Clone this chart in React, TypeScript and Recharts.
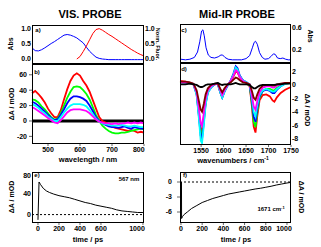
import { LineChart, Line, XAxis, YAxis, ReferenceLine } from 'recharts';

const FONT = "'Liberation Sans', Arial, sans-serif";

// a) steady-state absorption + fluorescence (vis)
const wavelengths = [450, 460, 470, 480, 490, 500, 510, 520, 530, 540, 550, 560, 570, 580, 590, 600, 610, 620, 630, 640, 650, 660, 670, 680, 690, 700, 710, 720, 730, 740, 750, 760, 770, 780, 790, 800];
const visAbs = [0.36, 0.27, 0.26, 0.3, 0.36, 0.43, 0.5, 0.56, 0.63, 0.7, 0.77, 0.79, 0.77, 0.73, 0.68, 0.6, 0.52, 0.38, 0.25, 0.15, 0.06, 0.02, 0.0, -0.01, -0.02, -0.02, -0.02, -0.02, -0.02, -0.02, -0.02, -0.02, -0.02, -0.02, -0.02, -0.02];
const visFluor = [null, null, null, null, null, null, null, null, null, null, null, null, null, null, 0.0, 0.08, 0.24, 0.42, 0.62, 0.82, 0.95, 0.98, 0.93, 0.86, 0.79, 0.73, 0.66, 0.59, 0.52, 0.45, 0.38, 0.31, 0.25, 0.19, 0.14, 0.1];

// b) transient vis spectra, mOD
const taRed = [36, 39, 35, 30, 24, 16, 10, 5, 5, 14, 28, 41, 52, 59, 62, 59, 52, 46, 38, 27, 16, 5, 0, -2, -4, -7, -9, -10, -11, -12, -13, -12, -13, -15, -14, -15];
const taGreen = [28, 27, 24, 19, 15, 10, 5, 2, 3, 10, 20, 30, 38, 44, 45, 44, 40, 35, 28, 18, 8, 0, -6, -10, -13, -15, -16, -16, -15, -15, -14, -13, -12, -11, -10, -11];
const taBlue = [25, 23, 20, 16, 12, 8, 4, 1, 2, 8, 15, 23, 29, 32, 32, 31, 29, 26, 20, 13, 5, 0, -3, -5, -7, -8, -8, -9, -8, -7, -9, -10, -8, -9, -10, -10];
const taCyan = [22, 20, 17, 13, 10, 6, 3, 0, 0, 5, 11, 16, 20, 22, 22, 22, 21, 19, 14, 9, 3, -1, -3, -4, -5, -6, -6, -6, -5, -6, -7, -7, -6, -7, -8, -8];
const taMagenta = [18, 16, 13, 10, 7, 4, 1, -2, -3, 1, 6, 11, 14, 15, 15, 15, 14, 13, 10, 6, 2, -1, -2, -3, -3, -4, -3, -4, -3, -3, -2, -3, -2, -3, -2, -3];

// c) IR absorption
const irAbsNu = [1505, 1515, 1525, 1535, 1542, 1547, 1551, 1554, 1557, 1561, 1566, 1572, 1580, 1588, 1594, 1598, 1603, 1610, 1620, 1630, 1640, 1650, 1658, 1664, 1668, 1671, 1675, 1680, 1686, 1692, 1700, 1706, 1711, 1715, 1720, 1726, 1732, 1738, 1744, 1750];
const irAbs = [0.03, 0.02, 0.03, 0.06, 0.15, 0.32, 0.5, 0.52, 0.42, 0.22, 0.1, 0.06, 0.05, 0.07, 0.1, 0.1, 0.06, 0.03, 0.02, 0.02, 0.02, 0.04, 0.09, 0.22, 0.31, 0.33, 0.28, 0.14, 0.06, 0.03, 0.04, 0.08, 0.12, 0.11, 0.05, 0.04, 0.05, 0.03, 0.02, 0.02];

// d) transient IR spectra, mOD
const irNu = [1503, 1515, 1525, 1533, 1540, 1545, 1549, 1552, 1556, 1560, 1565, 1572, 1580, 1587, 1593, 1597, 1602, 1609, 1616, 1622, 1627, 1631, 1636, 1643, 1651, 1658, 1663, 1667, 1671, 1675, 1680, 1687, 1695, 1703, 1709, 1713, 1719, 1727, 1737, 1750];
const irRed = [0.6, 0.5, 0.3, 0.1, -1.2, -4.0, -6.6, -7.0, -4.9, -2.5, -1.0, -0.3, 0.1, 0.2, -1.1, -1.8, -0.9, 0.0, 0.5, 1.3, 2.0, 1.9, 1.1, 0.6, 0.3, -0.2, -3.2, -6.2, -7.1, -4.6, -2.3, -1.5, -1.4, -1.7, -2.3, -2.5, -1.8, -1.2, -0.7, -0.3];
const irGreen = [0.5, 0.4, 0.3, 0.1, -1.3, -4.3, -7.1, -7.5, -5.2, -2.6, -1.0, -0.3, 0.1, 0.2, -1.1, -1.8, -0.9, 0.0, 0.6, 1.5, 2.4, 2.2, 1.3, 0.7, 0.3, -0.1, -2.8, -5.5, -6.3, -4.0, -1.9, -0.9, -0.6, -0.6, -0.8, -0.8, -0.4, -0.1, 0.2, 0.3];
const irBlue = [0.4, 0.4, 0.3, 0.1, -1.4, -4.6, -7.6, -8.1, -5.6, -2.8, -1.1, -0.4, 0.1, 0.2, -1.2, -1.9, -1.0, -0.1, 0.7, 1.7, 2.8, 2.5, 1.4, 0.7, 0.4, 0.0, -2.4, -4.7, -5.5, -3.5, -1.7, -0.9, -0.7, -0.9, -1.2, -1.2, -0.7, -0.2, 0.2, 0.3];
const irCyan = [0.4, 0.4, 0.3, 0.1, -1.5, -5.0, -8.3, -8.7, -6.0, -3.0, -1.2, -0.4, 0.1, 0.2, -1.2, -1.9, -1.0, -0.1, 0.6, 1.6, 2.6, 2.3, 1.3, 0.7, 0.4, 0.1, -2.0, -4.0, -4.7, -3.0, -1.5, -0.8, -0.6, -0.8, -1.0, -1.0, -0.6, -0.2, 0.2, 0.3];
const irMagenta = [0.4, 0.4, 0.3, 0.1, -1.1, -3.6, -5.7, -6.1, -4.2, -2.1, -0.8, -0.2, 0.1, 0.2, -0.9, -1.5, -0.8, 0.0, 0.6, 1.4, 2.2, 2.0, 1.2, 0.6, 0.3, 0.1, -1.6, -3.2, -3.7, -2.4, -1.1, -0.4, -0.2, -0.2, -0.4, -0.4, -0.1, 0.1, 0.3, 0.3];
const irBrown = [0.5, 0.5, 0.4, 0.2, -0.8, -2.4, -3.7, -4.0, -2.8, -1.4, -0.5, 0.0, 0.2, 0.2, -0.6, -1.1, -0.5, 0.1, 0.4, 0.8, 1.1, 1.0, 0.7, 0.4, 0.3, 0.1, -0.9, -1.9, -2.2, -1.4, -0.6, -0.1, 0.0, 0.0, -0.1, -0.1, 0.1, 0.2, 0.3, 0.3];
const irBlack = [0.1, 0.1, 0.2, 0.1, 0.0, -0.2, -0.3, -0.3, -0.2, 0.0, 0.1, 0.1, 0.2, 0.3, 0.1, 0.0, 0.1, 0.1, 0.1, 0.2, 0.3, 0.2, 0.1, 0.1, 0.1, 0.0, -0.3, -0.5, -0.5, -0.3, -0.1, 0.0, 0.0, 0.0, 0.0, 0.0, 0.1, 0.1, 0.2, 0.2];

// e) kinetic trace at 567 nm
const visTime = [0, 10, 25, 50, 80, 110, 150, 200, 250, 300, 350, 400, 450, 500, 550, 600, 650, 700, 750, 800, 850, 900, 950, 1000];
const visTrace = [-10, 62, 57, 50, 45, 42, 39, 36, 34, 32, 29, 26, 23, 21, 18, 16, 14, 12, 9, 7, 6, 5, 4, 4];

// f) kinetic trace at 1671 cm-1
const irTime = [5, 6, 15, 30, 60, 100, 150, 200, 250, 300, 350, 400, 450, 500, 550, 600, 650, 700, 750, 800, 850, 900, 950, 1000, 1030];
const irTrace = [0, -7.3, -6.9, -6.5, -6.0, -5.3, -4.7, -4.1, -3.7, -3.3, -3.0, -2.7, -2.4, -2.2, -2.0, -1.8, -1.6, -1.4, -1.25, -1.05, -0.85, -0.6, -0.4, -0.2, -0.1];

const visData = wavelengths.map((wl, i) => ({
  wl,
  abs: visAbs[i],
  fl: visFluor[i],
  red: taRed[i],
  green: taGreen[i],
  blue: taBlue[i],
  cyan: taCyan[i],
  magenta: taMagenta[i],
}));
const irAbsData = irAbsNu.map((nu, i) => ({ nu, abs: irAbs[i] }));
const irData = irNu.map((nu, i) => ({
  nu,
  red: irRed[i],
  green: irGreen[i],
  blue: irBlue[i],
  cyan: irCyan[i],
  magenta: irMagenta[i],
  brown: irBrown[i],
  black: irBlack[i],
}));
const visKin = visTime.map((t, i) => ({ t, v: visTrace[i] }));
const irKin = irTime.map((t, i) => ({ t, v: irTrace[i] }));

const tickStyle = { fontSize: 7, fontWeight: 700, fill: '#000', fontFamily: FONT };
const noMargin = { top: 0, right: 0, bottom: 0, left: 0 };

const visSeries = [
  { key: 'red', color: '#ff0000' },
  { key: 'green', color: '#00ff00' },
  { key: 'blue', color: '#0000ff' },
  { key: 'cyan', color: '#00ffff' },
  { key: 'magenta', color: '#ff00ff' },
];
const irSeries = [
  { key: 'red', color: '#ff0000' },
  { key: 'green', color: '#00ff00' },
  { key: 'blue', color: '#0000ff' },
  { key: 'cyan', color: '#00ffff' },
  { key: 'magenta', color: '#ff00ff' },
  { key: 'brown', color: '#800000' },
  { key: 'black', color: '#000000' },
];

const frames = [
  { x: 32, y: 25, w: 112, h: 39 },
  { x: 32, y: 64, w: 112, h: 80 },
  { x: 180, y: 24, w: 111, h: 39 },
  { x: 180, y: 63, w: 111, h: 82 },
  { x: 32, y: 172, w: 112, h: 51 },
  { x: 180, y: 172, w: 111, h: 51 },
];

const Label = (props: { x: number; y: number; rot: number; text: string; size?: number }) => (
  <text
    transform={`translate(${props.x},${props.y}) rotate(${props.rot})`}
    textAnchor="middle"
    dominantBaseline="central"
    fontSize={props.size ?? 7}
    fontWeight={700}
    fontFamily={FONT}
  >
    {props.text}
  </text>
);

export default function App() {
  return (
    <div style={{ position: 'absolute', left: 0, top: 0, width: 321, height: 247, background: '#fff' }}>
      <style>{'.recharts-surface{overflow:visible}'}</style>

      {/* a) */}
      <div style={{ position: 'absolute', left: 0, top: 25 }}>
        <LineChart width={165} height={39} data={visData} margin={noMargin}>
          <XAxis dataKey="wl" type="number" domain={[450, 800]} ticks={[450, 500, 550, 600, 650, 700, 750, 800]} tick={false} axisLine={false} tickSize={3} mirror height={0} />
          <YAxis yAxisId="abs" type="number" domain={[-0.161, 1.097]} allowDataOverflow ticks={[0, 0.5, 1]} tickFormatter={(v) => v.toFixed(1)} width={32} tick={tickStyle} tickSize={0} tickMargin={1} axisLine={false} />
          <YAxis yAxisId="fl" orientation="right" type="number" domain={[-0.161, 1.097]} allowDataOverflow ticks={[0, 0.5, 1]} tickFormatter={(v) => v.toFixed(1)} width={21} tick={tickStyle} tickSize={0} tickMargin={1} axisLine={false} />
          <Line yAxisId="abs" dataKey="abs" stroke="#0000ff" strokeWidth={1} dot={false} isAnimationActive={false} />
          <Line yAxisId="fl" dataKey="fl" stroke="#ff0000" strokeWidth={1} dot={false} isAnimationActive={false} />
        </LineChart>
      </div>

      {/* b) */}
      <div style={{ position: 'absolute', left: 0, top: 64 }}>
        <LineChart width={144} height={92} data={visData} margin={noMargin}>
          <XAxis dataKey="wl" type="number" domain={[450, 800]} ticks={[500, 600, 700, 800]} tick={tickStyle} axisLine={false} tickSize={2} tickMargin={1} height={12} />
          <YAxis type="number" domain={[-29.9, 74]} allowDataOverflow ticks={[-20, 0, 20, 40, 60]} width={32} tick={tickStyle} tickSize={3} tickMargin={2} axisLine={false} />
          <ReferenceLine y={0} stroke="#000" strokeWidth={3} />
          {visSeries.map((s) => (
            <Line key={s.key} dataKey={s.key} stroke={s.color} strokeWidth={1.8} dot={false} isAnimationActive={false} />
          ))}
        </LineChart>
      </div>

      {/* c) */}
      <div style={{ position: 'absolute', left: 180, top: 24 }}>
        <LineChart width={141} height={39} data={irAbsData} margin={noMargin}>
          <XAxis dataKey="nu" type="number" domain={[1503, 1750]} ticks={[1525, 1550, 1575, 1600, 1625, 1650, 1675, 1700, 1725]} tick={false} axisLine={false} tickSize={3} mirror height={0} />
          <YAxis orientation="right" type="number" domain={[-0.033, 0.617]} allowDataOverflow ticks={[0, 0.2, 0.4, 0.6]} tickFormatter={(v) => v.toFixed(1)} width={30} tick={tickStyle} tickSize={0} tickMargin={1} axisLine={false} />
          <Line dataKey="abs" stroke="#0000ff" strokeWidth={1} dot={false} isAnimationActive={false} />
        </LineChart>
      </div>

      {/* d) */}
      <div style={{ position: 'absolute', left: 180, top: 63 }}>
        <LineChart width={141} height={94} data={irData} margin={noMargin}>
          <XAxis dataKey="nu" type="number" domain={[1503, 1750]} ticks={[1550, 1600, 1650, 1700, 1750]} tick={tickStyle} axisLine={false} tickSize={2} tickMargin={1} height={12} />
          <YAxis orientation="right" type="number" domain={[-8.96, 3.28]} allowDataOverflow ticks={[2, 0, -2, -4, -6, -8]} width={30} tick={tickStyle} tickSize={0} tickMargin={1} axisLine={false} />
          {irSeries.map((s) => (
            <Line key={s.key} dataKey={s.key} stroke={s.color} strokeWidth={1.8} dot={false} isAnimationActive={false} />
          ))}
        </LineChart>
      </div>

      {/* e) */}
      <div style={{ position: 'absolute', left: 0, top: 172 }}>
        <LineChart width={144} height={63} data={visKin} margin={noMargin}>
          <XAxis dataKey="t" type="number" domain={[-57, 1010]} allowDataOverflow ticks={[0, 200, 400, 600, 800, 1000]} tick={tickStyle} axisLine={false} tickSize={2} tickMargin={1} height={12} />
          <YAxis type="number" domain={[-16, 81]} allowDataOverflow ticks={[0, 20, 40, 60, 80]} width={32} tick={tickStyle} tickSize={0} tickMargin={1} axisLine={false} />
          <ReferenceLine y={0} stroke="#000" strokeWidth={1} strokeDasharray="2 2" />
          <Line dataKey="v" stroke="#000" strokeWidth={1} dot={false} isAnimationActive={false} />
        </LineChart>
      </div>

      {/* f) */}
      <div style={{ position: 'absolute', left: 160, top: 172 }}>
        <LineChart width={131} height={63} data={irKin} margin={noMargin}>
          <XAxis dataKey="t" type="number" domain={[-9, 1038]} allowDataOverflow ticks={[0, 200, 400, 600, 800, 1000]} tick={tickStyle} axisLine={false} tickSize={2} tickMargin={1} height={12} />
          <YAxis type="number" domain={[-8.2, 2]} allowDataOverflow ticks={[0, -3, -6]} width={20} tick={tickStyle} tickSize={3} tickMargin={5} axisLine={false} />
          <ReferenceLine y={0} stroke="#000" strokeWidth={1} strokeDasharray="2 2" />
          <Line dataKey="v" stroke="#000" strokeWidth={1} dot={false} isAnimationActive={false} />
        </LineChart>
      </div>

      <svg width={321} height={247} style={{ position: 'absolute', left: 0, top: 0, pointerEvents: 'none' }}>
        {frames.map((f, i) => (
          <rect key={i} x={f.x + 0.5} y={f.y + 0.5} width={f.w - 1} height={f.h - 1} fill="none" stroke="#000" strokeWidth={1} />
        ))}
        <Label x={90} y={14} rot={0} text="VIS. PROBE" size={11} />
        <Label x={237} y={14} rot={0} text="Mid-IR PROBE" size={11} />

        <Label x={10} y={44} rot={-90} text="Abs" />
        <Label x={158} y={44} rot={90} text="Norm. Fluor." size={5.5} />
        <Label x={11} y={104} rot={-90} text="ΔA / mOD" />
        <Label x={310} y={36} rot={90} text="Abs" />
        <Label x={307} y={110} rot={90} text="ΔA / mOD" />
        <Label x={11} y={197} rot={-90} text="ΔA / mOD" />
        <Label x={301} y={197} rot={90} text="ΔA / mOD" />

        <Label x={88} y={159} rot={0} text="wavelength / nm" size={7.5} />
        <text x={233} y={160} textAnchor="middle" dominantBaseline="central" fontSize={7.5} fontWeight={700} fontFamily={FONT}>
          wavenumbers / cm<tspan dy={-2.5} fontSize={5}>-1</tspan>
        </text>
        <Label x={88} y={239} rot={0} text="time / ps" size={7.5} />
        <Label x={236} y={239} rot={0} text="time / ps" size={7.5} />

        <Label x={38} y={30} rot={0} text="a)" size={6} />
        <Label x={37} y={72} rot={0} text="b)" size={6} />
        <Label x={184} y={30} rot={0} text="c)" size={6} />
        <Label x={184} y={69} rot={0} text="d)" size={6} />
        <Label x={37} y={175} rot={0} text="e)" size={6} />
        <Label x={185} y={175} rot={0} text="f)" size={6} />

        <Label x={129} y={179} rot={0} text="567 nm" size={6} />
        <text x={271} y={209} textAnchor="middle" dominantBaseline="central" fontSize={6} fontWeight={700} fontFamily={FONT}>
          1671 cm<tspan dy={-2.5} fontSize={4}>-1</tspan>
        </text>
      </svg>
    </div>
  );
}
